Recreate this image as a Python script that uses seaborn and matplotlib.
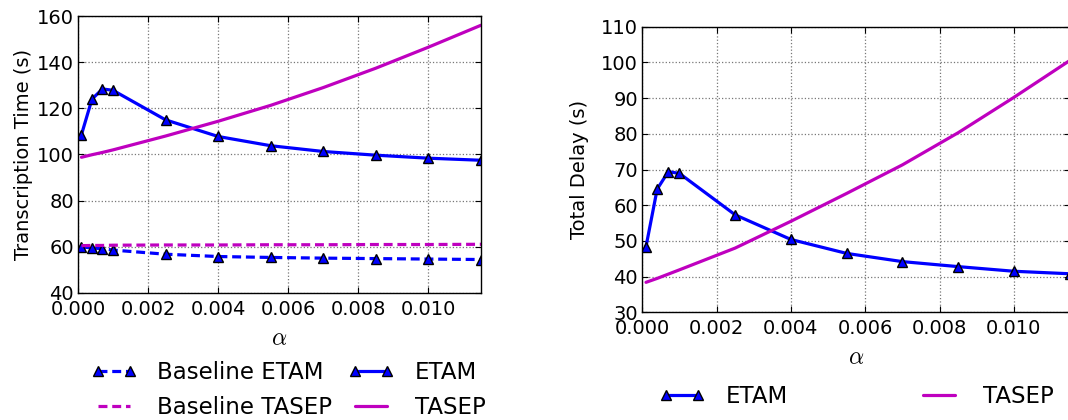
import matplotlib
matplotlib.use("Agg")
import matplotlib.pyplot as plt
from matplotlib.ticker import MultipleLocator, FormatStrFormatter
import seaborn as sns

alpha = [0.0001, 0.0004, 0.0007, 0.001, 0.0025, 0.004, 0.0055, 0.007, 0.0085, 0.01, 0.0115]

# left panel: transcription time (s)
etam_tt = [108.6, 124.0, 128.4, 127.8, 115.0, 107.8, 103.8, 101.3, 99.7, 98.4, 97.5]
tasep_tt = [98.8, 99.9, 100.9, 102.0, 108.0, 114.4, 121.3, 129.0, 137.4, 146.5, 156.0]
base_etam_tt = [60.0, 59.5, 59.2, 58.6, 56.8, 55.8, 55.4, 55.1, 54.9, 54.7, 54.5]
base_tasep_tt = [60.5, 60.6, 60.6, 60.7, 60.8, 60.8, 60.9, 60.9, 61.0, 61.0, 61.1]

# right panel: total delay (s)
etam_delay = [48.4, 64.5, 69.4, 68.9, 57.3, 50.4, 46.5, 44.2, 42.8, 41.5, 40.8]
tasep_delay = [38.4, 39.5, 40.7, 41.9, 48.0, 55.5, 63.3, 71.3, 80.3, 90.2, 100.5]

BLUE = "#0000ff"
MAG = "#bf00bf"

sns.set_style("white", {
    "axes.grid": True,
    "grid.linestyle": ":",
    "grid.color": "#777777",
    "axes.edgecolor": "black",
    "axes.labelcolor": "black",
    "text.color": "black",
    "xtick.color": "black",
    "ytick.color": "black",
    "xtick.direction": "in",
    "ytick.direction": "in",
    "xtick.top": True,
    "ytick.right": True,
    "xtick.bottom": True,
    "ytick.left": True,
})
plt.rcParams["font.family"] = ["DejaVu Sans"]
plt.rcParams["mathtext.fontset"] = "cm"
plt.rcParams["grid.linewidth"] = 0.9
plt.rcParams["axes.linewidth"] = 1.0
plt.rcParams["xtick.major.size"] = 4
plt.rcParams["ytick.major.size"] = 4

fig = plt.figure(figsize=(10.68, 4.2), dpi=100)
ax1 = fig.add_axes([0.073, 0.3024, 0.3774, 0.6595])
ax2 = fig.add_axes([0.6014, 0.2564, 0.4001, 0.68])

mk = dict(marker="^", markersize=7.5, markerfacecolor=BLUE, markeredgecolor="black", markeredgewidth=1)


def draw(ax, y, color, dashed=False, markers=False, label=None):
    kw = dict(mk) if markers else {}
    sns.lineplot(x=alpha, y=y, ax=ax, color=color, linewidth=2.3, label=label, legend=False, **kw)
    line = ax.lines[-1]
    if dashed:
        line.set_linestyle("--")
        line.set_dashes([2.8, 1.5])
    return line


h_be = draw(ax1, base_etam_tt, BLUE, dashed=True, markers=True, label="Baseline ETAM")
h_bt = draw(ax1, base_tasep_tt, MAG, dashed=True, label="Baseline TASEP")
h_e = draw(ax1, etam_tt, BLUE, markers=True, label="ETAM")
h_t = draw(ax1, tasep_tt, MAG, label="TASEP")

h2_e = draw(ax2, etam_delay, BLUE, markers=True, label="ETAM")
h2_t = draw(ax2, tasep_delay, MAG, label="TASEP")

for ax in (ax1, ax2):
    ax.set_xlim(0, 0.0115)
    ax.xaxis.set_major_locator(MultipleLocator(0.002))
    ax.xaxis.set_major_formatter(FormatStrFormatter("%.3f"))
    ax.tick_params(labelsize=14, pad=5, colors="black")
    ax.tick_params(axis="y", pad=3)
    ax.set_xlabel(r"$\alpha$", fontsize=17, labelpad=5, color="black")
    for sp in ax.spines.values():
        sp.set_visible(True)
        sp.set_color("black")

ax1.set_ylim(40, 160)
ax1.yaxis.set_major_locator(MultipleLocator(20))
ax1.set_ylabel("Transcription Time (s)", fontsize=14, labelpad=3, color="black")

ax2.set_ylim(30, 110)
ax2.yaxis.set_major_locator(MultipleLocator(10))
ax2.set_ylabel("Total Delay (s)", fontsize=14, labelpad=9, color="black")

leg1 = fig.legend([h_be, h_bt, h_e, h_t],
                  ["Baseline ETAM", "Baseline TASEP", "ETAM", "TASEP"],
                  loc="center", bbox_to_anchor=(0.270, 0.0714), ncol=2,
                  frameon=False, fontsize=16.5, numpoints=2, handlelength=2.0,
                  columnspacing=0.7, labelspacing=0.5, handletextpad=0.9)
leg2 = fig.legend([h2_e, h2_t], ["ETAM", "TASEP"],
                  loc="center", bbox_to_anchor=(0.802, 0.0548), ncol=2,
                  frameon=False, fontsize=16.5, numpoints=2, handlelength=2.0,
                  columnspacing=5.6, handletextpad=0.9)
for leg in (leg1, leg2):
    for t in leg.get_texts():
        t.set_color("black")

fig.savefig("out.png", dpi=100)
